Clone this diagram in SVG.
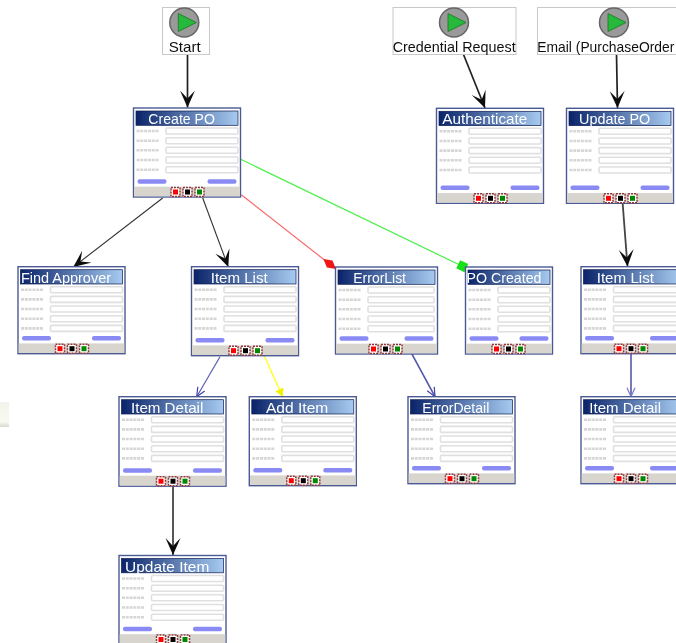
<svg xmlns="http://www.w3.org/2000/svg" width="676" height="643" viewBox="0 0 676 643">
<style>
text{font-family:"Liberation Sans",Arial,sans-serif}
.frame{fill:#fff;stroke:#4a5a94;stroke-width:1.4}
.band{fill:url(#bandGrad);stroke:#0e1c4f;stroke-width:.7}
.foot{fill:#d8d4ce}
.btn{fill:#8a8af5;height:4.4px}
.title{fill:#fff;font-size:15px}
.lab{fill:#111;font-size:15px}
.field{fill:#fff;stroke:#e0e0e0;stroke-width:1.6}
.smudge{stroke:#d6d6d6;stroke-width:2.6;stroke-dasharray:3 .8;fill:none}
.sbox{fill:#fff;stroke:#c9c9c9;stroke-width:1}
.disc{fill:#9a9a9a;stroke:#666;stroke-width:1.5}
.play{fill:#27b93a;stroke:#17751f;stroke-width:.8}
.sq{fill:#fff;stroke:#8f3b3b;stroke-width:1.5;stroke-dasharray:2 1}
.c{fill:none}
.black{stroke:#222;stroke-width:1.7;marker-end:url(#barb)}
.thin{stroke:#333;stroke-width:1.1;marker-end:url(#barb)}
.gray{stroke:#444;stroke-width:1.8;marker-end:url(#barb)}
.red{stroke:#f76a6a;stroke-width:1.2;marker-end:url(#dRed)}
.green{stroke:#4cf04c;stroke-width:1.2;marker-end:url(#dGreen)}
.blue{stroke:#5a5ab8;stroke-width:1.2;marker-end:url(#openBlue)}
.blue2{stroke:#4f55aa;stroke-width:1.6;marker-end:url(#openBlue)}
.navy{stroke:#1c1c8c;stroke-width:1.2;marker-end:url(#openLight)}
.yellow{stroke:#ffff20;stroke-width:1.4;marker-end:url(#yHead)}
</style>
<defs>
<linearGradient id="bandGrad" x1="0" x2="1" y1="0" y2="0"><stop offset="0" stop-color="#0a246a"/><stop offset="1" stop-color="#a6caf0"/></linearGradient>
<linearGradient id="scrap" x1="0" x2="0" y1="0" y2="1"><stop offset="0" stop-color="#f2f3ec"/><stop offset=".8" stop-color="#f9f9f0"/><stop offset="1" stop-color="#d8d8cc"/></linearGradient>
<filter id="soft" x="-2%" y="-2%" width="104%" height="104%"><feGaussianBlur stdDeviation="0.35"/></filter>
<marker id="barb" markerUnits="userSpaceOnUse" markerWidth="18" markerHeight="16" refX="17" refY="8" orient="auto"><path d="M17,8 L0,.5 L8,8 L0,15.5 Z" fill="#111"/></marker>
<marker id="openBlue" markerUnits="userSpaceOnUse" markerWidth="11" markerHeight="11" refX="10" refY="5.5" orient="auto"><path d="M1,1.5 L10,5.5 L1,9.5" fill="none" stroke="#4040b0" stroke-width="1.2"/></marker>
<marker id="openLight" markerUnits="userSpaceOnUse" markerWidth="11" markerHeight="11" refX="10" refY="5.5" orient="auto"><path d="M1,1.5 L10,5.5 L1,9.5" fill="none" stroke="#7a7ad0" stroke-width="1.2"/></marker>
<marker id="yHead" markerUnits="userSpaceOnUse" markerWidth="9" markerHeight="10" refX="8" refY="5" orient="auto"><path d="M8,5 L0,.5 L0,9.5 Z" fill="#f4f000"/></marker>
<marker id="dRed" markerUnits="userSpaceOnUse" markerWidth="17" markerHeight="10" refX="16" refY="5" orient="auto"><path d="M0,5 L8,.5 L16,5 L8,9.5 Z" fill="#f01818"/></marker>
<marker id="dGreen" markerUnits="userSpaceOnUse" markerWidth="10" markerHeight="10" refX="8" refY="5" orient="auto"><rect x=".5" y=".5" width="9" height="9" fill="#14e014"/></marker>
<g id="labels">
<path class="smudge" d="M3,23H25M3,32.7H25M3,42.3H25M3,52H25M3,61.7H25"/>
</g>
<g id="f107"><use href="#labels"/><rect class="field" x="32.5" y="20" width="72" height="6" rx="1"/><rect class="field" x="32.5" y="29.7" width="72" height="6" rx="1"/><rect class="field" x="32.5" y="39.3" width="72" height="6" rx="1"/><rect class="field" x="32.5" y="49" width="72" height="6" rx="1"/><rect class="field" x="32.5" y="58.7" width="72" height="6" rx="1"/></g>
<g id="f102"><use href="#labels"/><rect class="field" x="32.5" y="20" width="66" height="6" rx="1"/><rect class="field" x="32.5" y="29.7" width="66" height="6" rx="1"/><rect class="field" x="32.5" y="39.3" width="66" height="6" rx="1"/><rect class="field" x="32.5" y="49" width="66" height="6" rx="1"/><rect class="field" x="32.5" y="58.7" width="66" height="6" rx="1"/></g>
<g id="f87"><use href="#labels"/><rect class="field" x="32.5" y="20" width="52" height="6" rx="1"/><rect class="field" x="32.5" y="29.7" width="52" height="6" rx="1"/><rect class="field" x="32.5" y="39.3" width="52" height="6" rx="1"/><rect class="field" x="32.5" y="49" width="52" height="6" rx="1"/><rect class="field" x="32.5" y="58.7" width="52" height="6" rx="1"/></g>
<g id="squares">
<rect class="sq" x="-4.5" y="-4.5" width="9" height="9"/><rect x="-2.5" y="-2.5" width="5" height="5" fill="#f00"/>
<rect class="sq" x="7.5" y="-4.5" width="9" height="9"/><rect x="9.5" y="-2.5" width="5" height="5" fill="#000"/>
<rect class="sq" x="19.5" y="-4.5" width="9" height="9"/><rect x="21.5" y="-2.5" width="5" height="5" fill="#080"/>
</g>
<g id="icon"><circle class="disc" r="14.5"/><polygon class="play" points="-6,-9 -6,9 12,0"/></g>
</defs>
<g filter="url(#soft)">
<rect id="edge-scrap" x="0" y="402" width="9" height="25" fill="url(#scrap)"/>
<g id="connectors" class="c">
<line class="black" x1="187.5" y1="54.5" x2="187.5" y2="107.5"/>
<line class="black" x1="463.5" y1="54.5" x2="485" y2="108"/>
<line class="black" x1="616.5" y1="54.5" x2="617.5" y2="108"/>
<line class="gray" x1="622.7" y1="204" x2="627.5" y2="266.5"/>
<line class="thin" x1="162.7" y1="198" x2="73.3" y2="267"/>
<line class="thin" x1="202.7" y1="198" x2="228.3" y2="267"/>
<line class="red" x1="241.3" y1="194.7" x2="336" y2="269"/>
<line class="green" x1="240.7" y1="159.3" x2="465" y2="267.5"/>
<line class="blue" x1="220" y1="356.7" x2="196.7" y2="396.7"/>
<line class="yellow" x1="264.3" y1="356" x2="282.7" y2="396.7"/>
<line class="blue2" x1="411.7" y1="353.7" x2="435" y2="396.7"/>
<line class="navy" x1="631" y1="354" x2="631" y2="396.7"/>
<line class="gray" x1="173" y1="486.5" x2="173" y2="555"/>
</g>
<g id="start"><rect class="sbox" x="162.5" y="7.5" width="47" height="47"/><use href="#icon" x="184.3" y="22.5"/><text class="lab" x="168.7" y="51.7" textLength="32" lengthAdjust="spacingAndGlyphs">Start</text></g>
<g id="credential-request"><rect class="sbox" x="393" y="7.5" width="123" height="47"/><use href="#icon" x="454" y="22.5"/><text class="lab" x="392.7" y="51.7" textLength="123" lengthAdjust="spacingAndGlyphs">Credential Request</text></g>
<g id="email"><rect class="sbox" x="537.5" y="7.5" width="150" height="47"/><use href="#icon" x="614" y="22.5"/><text class="lab" x="537.3" y="51.7" textLength="137" lengthAdjust="spacingAndGlyphs">Email (PurchaseOrder</text></g>

<g id="create-po" transform="translate(133.5,108)"><rect class="frame" width="107" height="89"/><rect class="band" x="2.5" y="3" width="102" height="14.3"/><use href="#f107"/><rect class="btn" x="4" y="71.3" width="29" rx="2"/><rect class="btn" x="74" y="71.3" width="29" rx="2"/><rect class="foot" x=".7" y="78.7" width="105.6" height="9.6"/><use href="#squares" x="42" y="84"/><text class="title" x="14.8" y="16" textLength="66.7" lengthAdjust="spacingAndGlyphs">Create PO</text></g>
<g id="authenticate" transform="translate(436.5,108.3)"><rect class="frame" width="107" height="95"/><rect class="band" x="2.5" y="3" width="102" height="14.3"/><use href="#f107"/><rect class="btn" x="4" y="77.3" width="29" rx="2"/><rect class="btn" x="74" y="77.3" width="29" rx="2"/><rect class="foot" x=".7" y="84.7" width="105.6" height="9.6"/><use href="#squares" x="42" y="90"/><text class="title" x="5.8" y="16" textLength="85" lengthAdjust="spacingAndGlyphs">Authenticate</text></g>
<g id="update-po" transform="translate(566.5,108.3)"><rect class="frame" width="107" height="95"/><rect class="band" x="2.5" y="3" width="102" height="14.3"/><use href="#f107"/><rect class="btn" x="4" y="77.3" width="29" rx="2"/><rect class="btn" x="74" y="77.3" width="29" rx="2"/><rect class="foot" x=".7" y="84.7" width="105.6" height="9.6"/><use href="#squares" x="42" y="90"/><text class="title" x="12.5" y="16" textLength="71.3" lengthAdjust="spacingAndGlyphs">Update PO</text></g>
<g id="find-approver" transform="translate(18,266.7)"><rect class="frame" width="107" height="87"/><rect class="band" x="2.5" y="3" width="102" height="14.3"/><use href="#f107"/><rect class="btn" x="4" y="69.3" width="29" rx="2"/><rect class="btn" x="74" y="69.3" width="29" rx="2"/><rect class="foot" x=".7" y="76.7" width="105.6" height="9.6"/><use href="#squares" x="42" y="82"/><text class="title" x="3" y="16" textLength="90" lengthAdjust="spacingAndGlyphs">Find Approver</text></g>
<g id="item-list" transform="translate(191.5,266.7)"><rect class="frame" width="107" height="89"/><rect class="band" x="2.5" y="3" width="102" height="14.3"/><use href="#f107"/><rect class="btn" x="4" y="71.3" width="29" rx="2"/><rect class="btn" x="74" y="71.3" width="29" rx="2"/><rect class="foot" x=".7" y="78.7" width="105.6" height="9.6"/><use href="#squares" x="42" y="84"/><text class="title" x="19.2" y="16" textLength="57" lengthAdjust="spacingAndGlyphs">Item List</text></g>
<g id="error-list" transform="translate(335.5,267)"><rect class="frame" width="102" height="87"/><rect class="band" x="2.5" y="3" width="97" height="14.3"/><use href="#f102"/><rect class="btn" x="4" y="69.3" width="29" rx="2"/><rect class="btn" x="69" y="69.3" width="29" rx="2"/><rect class="foot" x=".7" y="76.7" width="100.6" height="9.6"/><use href="#squares" x="38" y="82"/><text class="title" x="17.8" y="16" textLength="52.7" lengthAdjust="spacingAndGlyphs">ErrorList</text></g>
<g id="po-created" transform="translate(465.5,267)"><rect class="frame" width="87" height="87"/><rect class="band" x="2.5" y="3" width="82" height="14.3"/><use href="#f87"/><rect class="btn" x="4" y="69.3" width="29" rx="2"/><rect class="btn" x="54" y="69.3" width="29" rx="2"/><rect class="foot" x=".7" y="76.7" width="85.6" height="9.6"/><use href="#squares" x="31" y="82"/><text class="title" x="1" y="16" textLength="75" lengthAdjust="spacingAndGlyphs">PO Created</text></g>
<g id="item-list-2" transform="translate(581,266.7)"><rect class="frame" width="102" height="87"/><rect class="band" x="2.5" y="3" width="97" height="14.3"/><use href="#f102"/><rect class="btn" x="4" y="69.3" width="29" rx="2"/><rect class="btn" x="69" y="69.3" width="29" rx="2"/><rect class="foot" x=".7" y="76.7" width="100.6" height="9.6"/><use href="#squares" x="38" y="82"/><text class="title" x="15.7" y="16" textLength="57.3" lengthAdjust="spacingAndGlyphs">Item List</text></g>
<g id="item-detail" transform="translate(119,396.7)"><rect class="frame" width="107" height="89.5"/><rect class="band" x="2.5" y="3" width="102" height="14.3"/><use href="#f107"/><rect class="btn" x="4" y="71.6" width="29" rx="2"/><rect class="btn" x="74" y="71.6" width="29" rx="2"/><rect class="foot" x=".7" y="79" width="105.6" height="9.8"/><use href="#squares" x="42" y="84.5"/><text class="title" x="12" y="16" textLength="72.3" lengthAdjust="spacingAndGlyphs">Item Detail</text></g>
<g id="add-item" transform="translate(249.3,396.7)"><rect class="frame" width="107" height="89"/><rect class="band" x="2.5" y="3" width="102" height="14.3"/><use href="#f107"/><rect class="btn" x="4" y="71.3" width="29" rx="2"/><rect class="btn" x="74" y="71.3" width="29" rx="2"/><rect class="foot" x=".7" y="78.7" width="105.6" height="9.6"/><use href="#squares" x="42" y="84"/><text class="title" x="16.7" y="16" textLength="62.3" lengthAdjust="spacingAndGlyphs">Add Item</text></g>
<g id="error-detail" transform="translate(408,396.7)"><rect class="frame" width="107" height="87"/><rect class="band" x="2.5" y="3" width="102" height="14.3"/><use href="#f107"/><rect class="btn" x="4" y="69.3" width="29" rx="2"/><rect class="btn" x="74" y="69.3" width="29" rx="2"/><rect class="foot" x=".7" y="76.7" width="105.6" height="9.6"/><use href="#squares" x="42" y="82"/><text class="title" x="14.3" y="16" textLength="67" lengthAdjust="spacingAndGlyphs">ErrorDetail</text></g>
<g id="item-detail-2" transform="translate(581,396.7)"><rect class="frame" width="102" height="87"/><rect class="band" x="2.5" y="3" width="97" height="14.3"/><use href="#f102"/><rect class="btn" x="4" y="69.3" width="29" rx="2"/><rect class="btn" x="69" y="69.3" width="29" rx="2"/><rect class="foot" x=".7" y="76.7" width="100.6" height="9.6"/><use href="#squares" x="38" y="82"/><text class="title" x="8.3" y="16" textLength="71.7" lengthAdjust="spacingAndGlyphs">Item Detail</text></g>
<g id="update-item" transform="translate(119,555.5)"><rect class="frame" width="107" height="89"/><rect class="band" x="2.5" y="3" width="102" height="14.3"/><use href="#f107"/><rect class="btn" x="4" y="71.3" width="29" rx="2"/><rect class="btn" x="74" y="71.3" width="29" rx="2"/><rect class="foot" x=".7" y="78.7" width="105.6" height="9.6"/><use href="#squares" x="42" y="84"/><text class="title" x="6" y="16" textLength="84.3" lengthAdjust="spacingAndGlyphs">Update Item</text></g>
</g>
</svg>
